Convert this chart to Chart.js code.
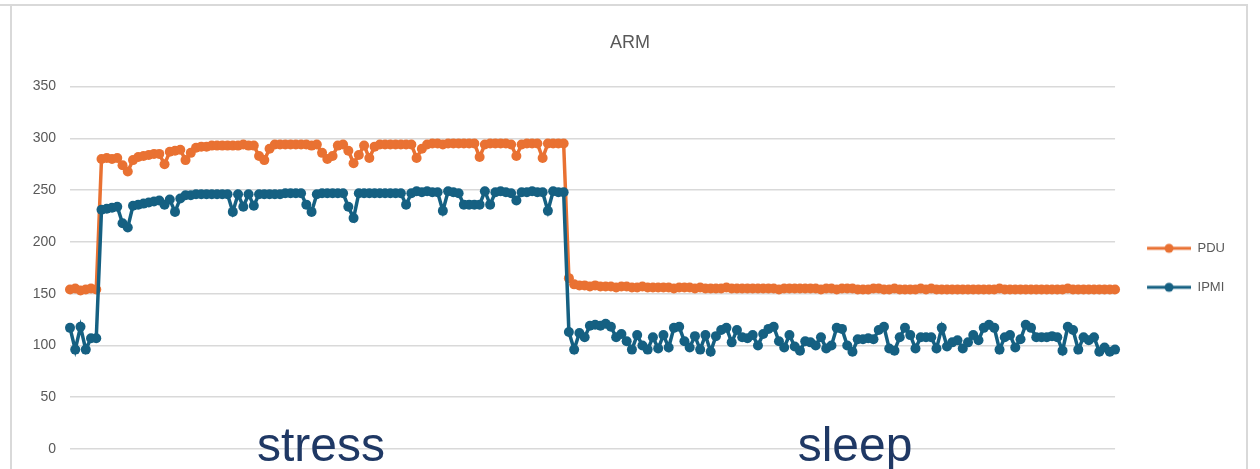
<!DOCTYPE html>
<html>
<head>
<meta charset="utf-8">
<script src="https://cdn.jsdelivr.net/npm/chart.js@4/dist/chart.umd.min.js"></script>
<style>
  html, body { margin: 0; padding: 0; background: #fff; }
  #wrap { position: relative; width: 1260px; height: 469px; overflow: hidden; }
  #frame { position: absolute; left: 10px; top: 4px; width: 1238px; height: 500px;
           border: 2px solid #d9d9d9; box-sizing: border-box; }
  #topline { position: absolute; left: 0; top: 4px; width: 12px; height: 2px; background: #d9d9d9; }
  #stats { position: absolute; left: 0; top: 0; }
  .phase { position: absolute; font-family: "Liberation Sans", Arial, sans-serif;
           font-size: 48px; color: #1f3864; line-height: 1; transform: translateX(-50%);
           white-space: nowrap; }
</style>
</head>
<body>
<div id="wrap">
  <div id="frame"></div>
  <div id="topline"></div>
  <canvas id="stats" width="1260" height="469"></canvas>
  <div class="phase" style="left:321px; top:421px;">stress</div>
  <div class="phase" style="left:855px; top:421px;">sleep</div>
</div>
<script>
// power readings (W), one sample per point
const pduStress = [
  154,155,153,154,155,154,280,281,280,281,
  274,268,279,282,283,284,285,285,275,287,
  288,289,279,286,291,292,292,293,293,293,
  293,293,293,294,293,293,283,279,290,294,
  294,294,294,294,294,294,293,294,286,280,
  283,293,294,288,276,284,293,281,292,294,
  294,294,294,294,294,294,281,290,294,295,
  295,294,295,295,295,295,295,295,282,294,
  295,295,295,295,294,283,294,295,295,295,
  281,295,295,295,295
];
const pduSleep = [
  165,159,158,158,157,158,157,157,157,156,
  157,157,156,156,157,156,156,156,156,156,
  155,156,156,156,155,156,155,155,155,155,
  156,155,155,155,155,155,155,155,155,155,
  154,155,155,155,155,155,155,155,154,155,
  155,154,155,155,155,154,154,154,155,155,
  154,154,155,154,154,154,154,155,154,155,
  154,154,154,154,154,154,154,154,154,154,
  154,154,155,154,154,154,154,154,154,154,
  154,154,154,154,154,155,154,154,154,154,
  154,154,154,154,154
];
const ipmiStress = [
  117,96,118,96,107,107,231,232,233,234,
  218,214,235,236,237,238,239,240,236,241,
  229,242,245,245,246,246,246,246,246,246,
  246,229,246,234,246,235,246,246,246,246,
  246,247,247,247,247,236,229,246,247,247,
  247,247,247,234,223,247,247,247,247,247,
  247,247,247,247,236,247,249,248,249,248,
  248,230,249,248,247,236,236,236,236,249,
  236,248,249,248,247,240,248,248,249,248,
  248,230,249,248,248
];
const ipmiSleep = [
  113,96,112,108,119,120,119,121,118,108,
  111,104,96,110,100,96,108,97,110,98,
  117,118,104,98,109,96,110,94,109,115,
  117,103,115,108,107,110,100,111,116,118,
  104,98,110,99,95,104,103,100,108,97,
  100,117,116,100,94,106,106,107,106,115,
  118,97,95,108,117,110,97,108,108,108,
  97,117,99,103,105,97,103,110,105,117,
  120,117,96,108,110,98,106,120,117,108,
  108,108,109,108,95,118,115,96,108,105,
  108,94,98,94,96
];
const pdu = pduStress.concat(pduSleep);
const ipmi = ipmiStress.concat(ipmiSleep);
const samples = pdu.map((v, i) => String(i + 1));
const yTicks = [0, 50, 100, 150, 200, 250, 300, 350];

const orange = '#e97132';
const blue = '#156082';
const grey = '#595959';

// legend marker: short line with a dot in the middle
function lineMarker(color) {
  const c = document.createElement('canvas');
  c.width = 50; c.height = 12;
  const g = c.getContext('2d');
  g.strokeStyle = color; g.lineWidth = 3;
  g.beginPath(); g.moveTo(6, 6); g.lineTo(50, 6); g.stroke();
  g.fillStyle = color;
  g.beginPath(); g.arc(28, 6, 4.5, 0, Math.PI * 2); g.fill();
  return c;
}

const ctx = document.getElementById('stats').getContext('2d');
new Chart(ctx, {
  type: 'line',
  data: {
    labels: samples,
    datasets: [{
      label: 'PDU',
      data: pdu,
      borderColor: orange,
      backgroundColor: orange,
      borderWidth: 3.5,
      pointRadius: 5,
      pointBorderWidth: 0,
      pointStyle: 'circle',
      tension: 0,
      clip: false,
      order: 1
    }, {
      label: 'IPMI',
      data: ipmi,
      borderColor: blue,
      backgroundColor: blue,
      borderWidth: 3.5,
      pointRadius: 5,
      pointBorderWidth: 0,
      pointStyle: 'circle',
      tension: 0,
      clip: false,
      order: 0
    }]
  },
  options: {
    responsive: false,
    animation: false,
    layout: { padding: { left: 25, right: 25, top: 0, bottom: 20 } },
    scales: {
      x: { display: false, offset: false },
      y: {
        min: 0, max: 350,
        afterFit: s => { s.width = 45; s.paddingTop = 0; s.paddingBottom = 0; },
        afterBuildTicks: s => { s.ticks = yTicks.map(v => ({ value: v })); },
        ticks: { color: grey, padding: 14, font: { family: 'Liberation Sans', size: 14 } },
        grid: { color: '#d9d9d9', lineWidth: 1.5, drawTicks: false },
        border: { display: false }
      }
    },
    plugins: {
      title: {
        display: true, text: 'ARM', color: grey,
        font: { family: 'Liberation Sans', size: 18, weight: 'normal' },
        padding: { top: 32, bottom: 33 }
      },
      legend: {
        position: 'right', fullSize: false,
        labels: {
          usePointStyle: true, pointStyleWidth: 50, boxHeight: 12,
          padding: 26, color: grey,
          font: { family: 'Liberation Sans', size: 13 },
          generateLabels: chart => chart.data.datasets.map((d, i) => ({
            text: d.label, datasetIndex: i, pointStyle: lineMarker(d.borderColor),
            fontColor: grey, lineWidth: 0, strokeStyle: 'transparent', fillStyle: d.borderColor
          }))
        }
      },
      tooltip: { enabled: false }
    }
  }
});
</script>
</body>
</html>
